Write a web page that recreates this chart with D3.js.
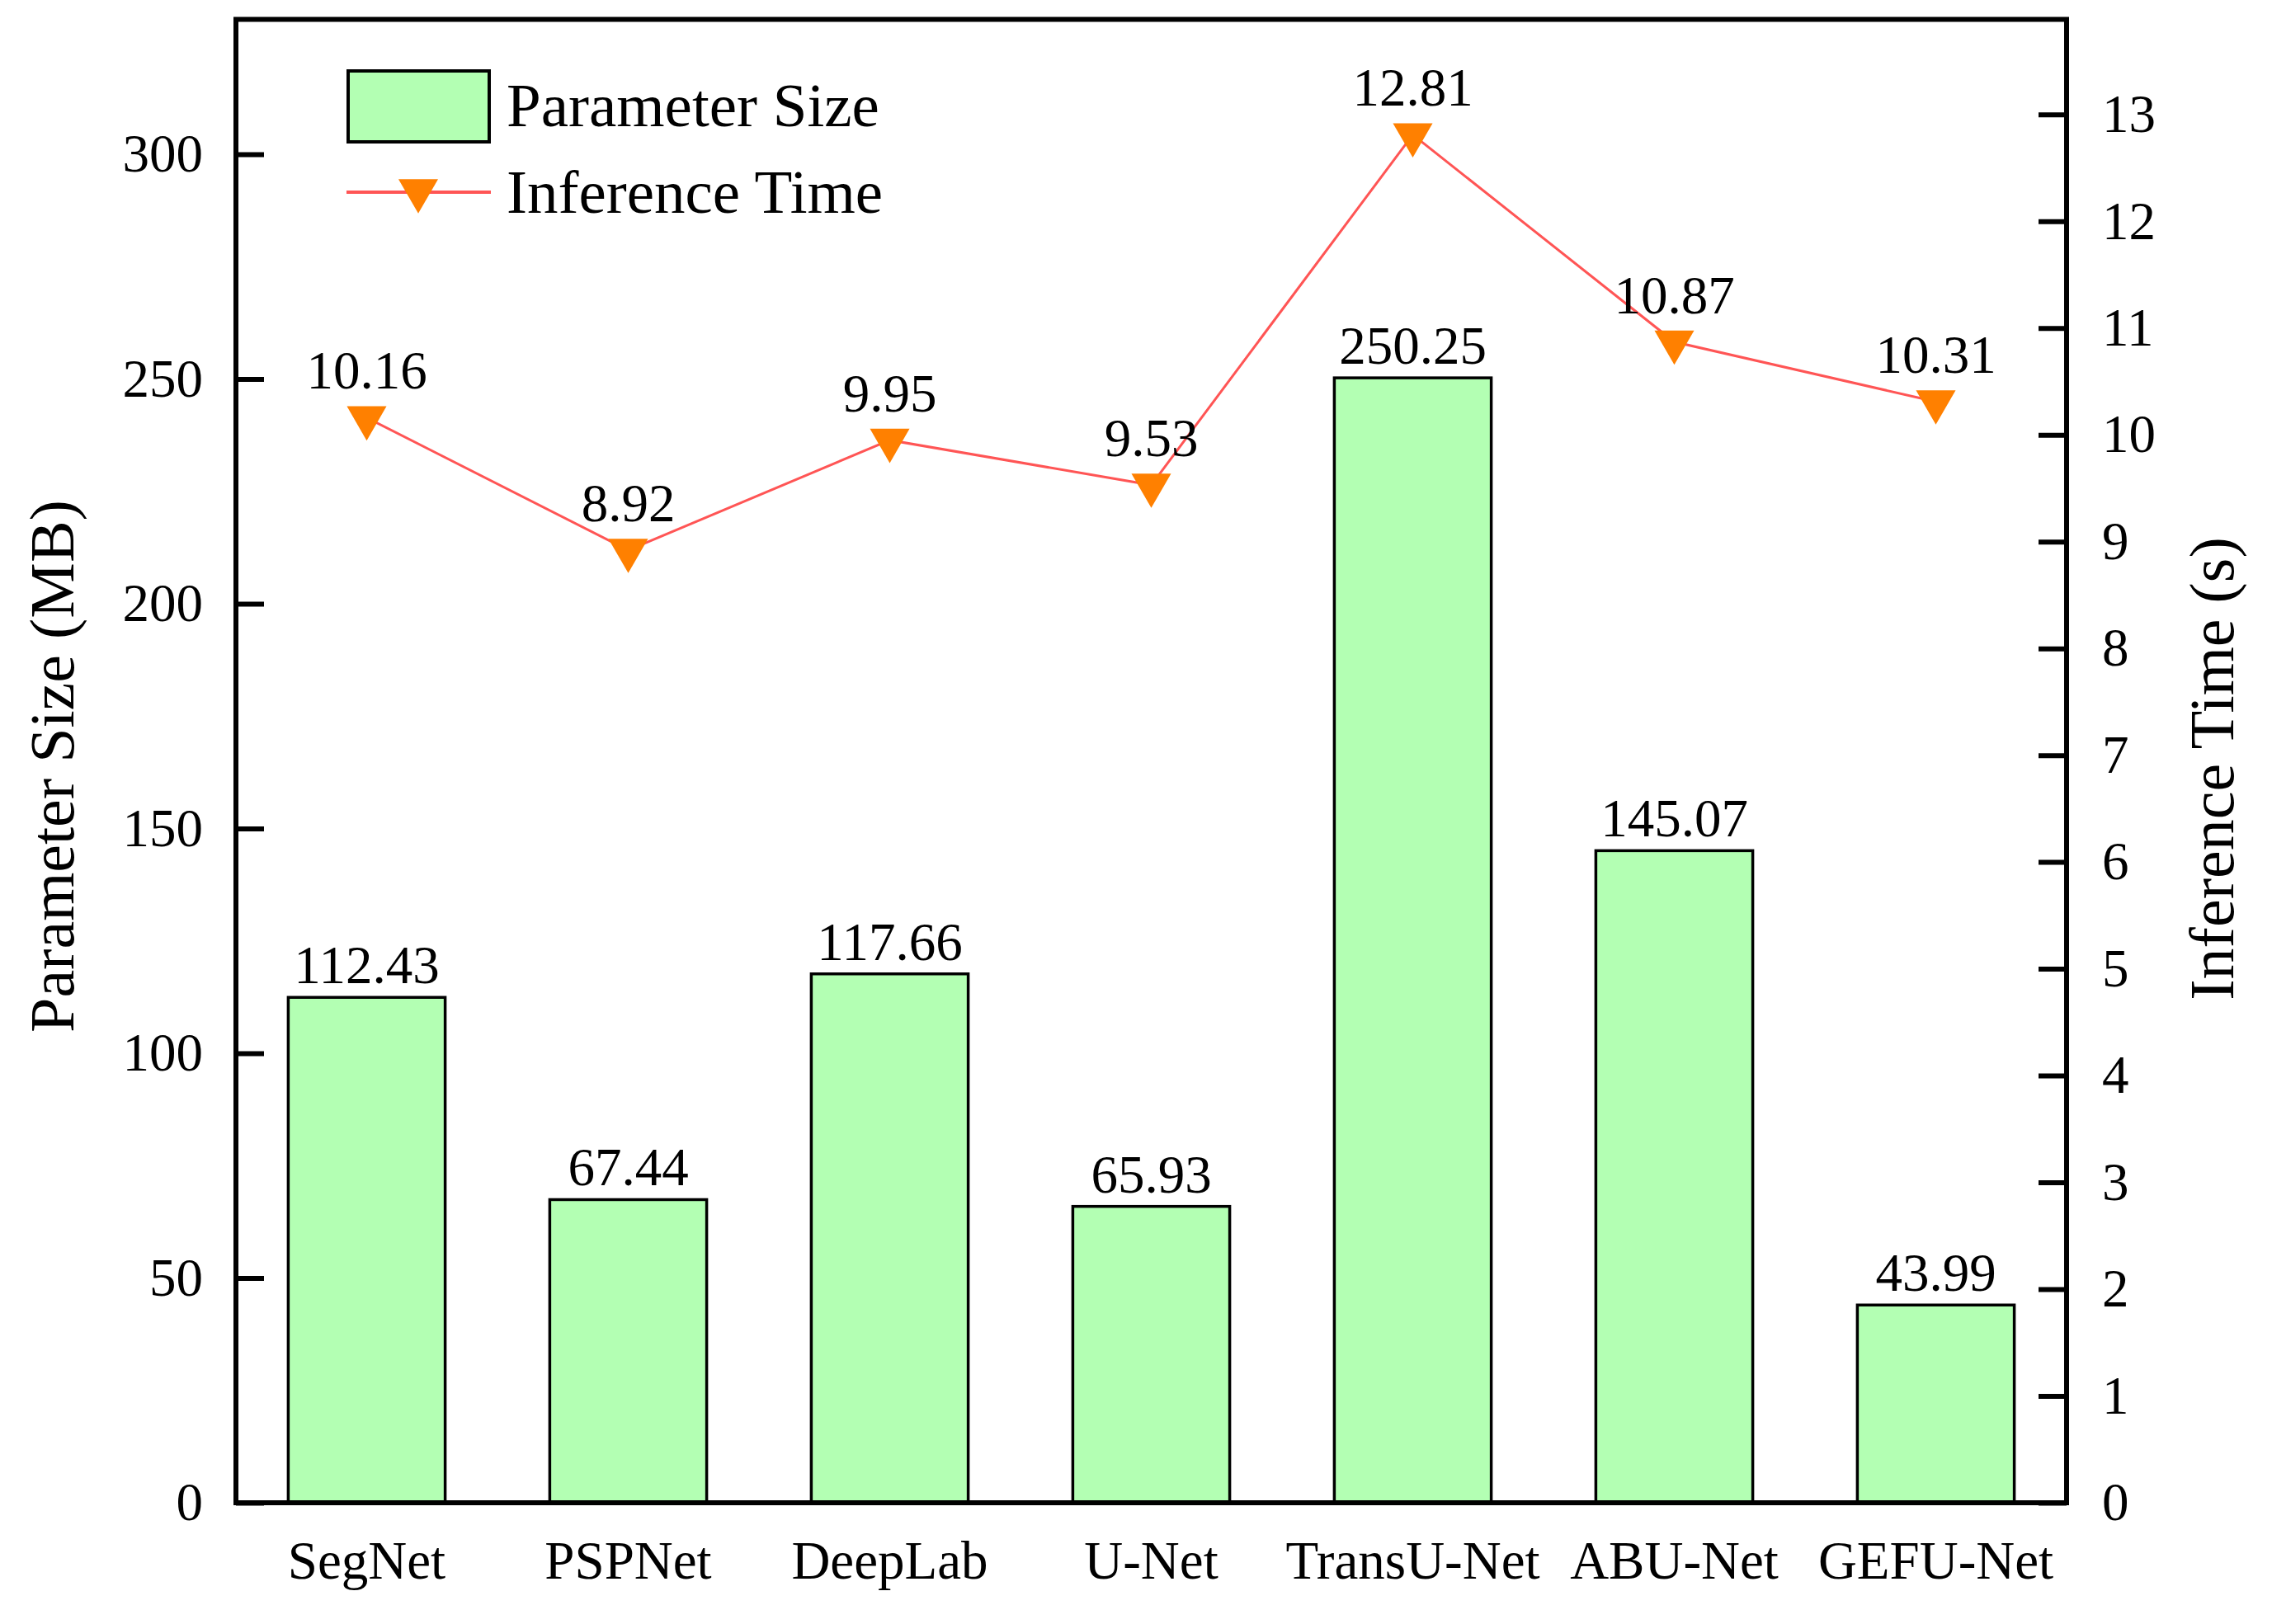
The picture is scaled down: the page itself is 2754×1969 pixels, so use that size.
<!DOCTYPE html>
<html>
<head>
<meta charset="utf-8">
<script src="https://cdn.jsdelivr.net/npm/d3@7"></script>
<style>
  body { margin: 0; background: #fff; }
  text { font-family: "Liberation Serif", "Times New Roman", serif; fill: #000; }
</style>
</head>
<body>
<svg id="chartSVG"></svg>
<script>
// chart data
let categories = ['SegNet', 'PSPNet', 'DeepLab', 'U-Net', 'TransU-Net', 'ABU-Net', 'GEFU-Net'];
let paramSize = [112.43, 67.44, 117.66, 65.93, 250.25, 145.07, 43.99];
let inferTime = [10.16, 8.92, 9.95, 9.53, 12.81, 10.87, 10.31];
let leftTicks = [0, 50, 100, 150, 200, 250, 300];
let rightTicks = [0, 1, 2, 3, 4, 5, 6, 7, 8, 9, 10, 11, 12, 13];
let legendLabels = ['Parameter Size', 'Inference Time'];

let widthSVG = 2754;
let heightSVG = 1969;
let margins = { top: 23.5, bottom: 147, left: 286, right: 249 };

let plotRight = widthSVG - margins.right;
let plotBottom = heightSVG - margins.bottom;

let barColor = '#b3ffb3';
let lineColor = '#ff5555';
let markerColor = '#ff8000';

let SVG = d3.select('svg#chartSVG')
            .attr('width', widthSVG)
            .attr('height', heightSVG);

let data = categories.map((c, i) => ({ cat: c, size: paramSize[i], time: inferTime[i] }));

let x = d3.scaleBand()
          .domain(categories)
          .range([margins.left, plotRight])
          .paddingInner(0.4)
          .paddingOuter(0.2);

let yL = d3.scaleLinear().domain([0, 330]).range([plotBottom, margins.top]);
let yR = d3.scaleLinear().domain([0, 13.89]).range([plotBottom, margins.top]);

// bars
SVG.append('g')
   .selectAll('rect')
   .data(data)
   .enter()
   .append('rect')
   .attr('x', d => x(d.cat))
   .attr('width', x.bandwidth())
   .attr('y', d => yL(d.size))
   .attr('height', d => plotBottom - yL(d.size))
   .style('fill', barColor)
   .style('stroke', '#000')
   .style('stroke-width', 3.5);

SVG.append('g')
   .selectAll('text')
   .data(data)
   .enter()
   .append('text')
   .attr('x', d => x(d.cat) + x.bandwidth() / 2)
   .attr('y', d => yL(d.size) - 17)
   .style('text-anchor', 'middle')
   .style('font-size', '65px')
   .text(d => d.size.toFixed(2));

// line + markers
let line = d3.line()
             .x(d => x(d.cat) + x.bandwidth() / 2)
             .y(d => yR(d.time));

SVG.append('path')
   .datum(data)
   .attr('d', line)
   .style('fill', 'none')
   .style('stroke', lineColor)
   .style('stroke-width', 3);

let tri = d3.symbol().type(d3.symbolTriangle).size(1000);

SVG.append('g')
   .selectAll('path')
   .data(data)
   .enter()
   .append('path')
   .attr('d', tri)
   .attr('transform', d => `translate(${x(d.cat) + x.bandwidth() / 2}, ${yR(d.time)}) rotate(180)`)
   .style('fill', markerColor);

SVG.append('g')
   .selectAll('text')
   .data(data)
   .enter()
   .append('text')
   .attr('x', d => x(d.cat) + x.bandwidth() / 2)
   .attr('y', d => yR(d.time) - 35)
   .style('text-anchor', 'middle')
   .style('font-size', '65px')
   .text(d => d.time.toFixed(2));

// axes
let axisL = d3.axisLeft(yL).tickValues(leftTicks).tickSizeInner(-34).tickSizeOuter(0).tickPadding(40);
let axisR = d3.axisRight(yR).tickValues(rightTicks).tickSizeInner(-34).tickSizeOuter(0).tickPadding(43);
let axisB = d3.axisBottom(x).tickSize(0).tickPadding(46);

let gL = SVG.append('g').attr('transform', `translate(${margins.left}, 0)`).call(axisL);
let gR = SVG.append('g').attr('transform', `translate(${plotRight}, 0)`).call(axisR);
let gB = SVG.append('g').attr('transform', `translate(0, ${plotBottom})`).call(axisB);

[gL, gR, gB].forEach(g => {
  g.select('.domain').remove();
  g.selectAll('line').style('stroke', '#000').style('stroke-width', 6);
  g.selectAll('text')
   .style('font-family', '"Liberation Serif", serif')
   .style('font-size', '65px')
   .style('fill', '#000');
});

// frame
SVG.append('rect')
   .attr('x', margins.left)
   .attr('y', margins.top)
   .attr('width', plotRight - margins.left)
   .attr('height', plotBottom - margins.top)
   .style('fill', 'none')
   .style('stroke', '#000')
   .style('stroke-width', 6);

// axis titles
SVG.append('text')
   .attr('transform', 'translate(89, 929) rotate(-90)')
   .style('text-anchor', 'middle')
   .style('font-size', '76px')
   .text('Parameter Size (MB)');

SVG.append('text')
   .attr('transform', 'translate(2707, 932) rotate(-90)')
   .style('text-anchor', 'middle')
   .style('font-size', '76px')
   .text('Inference Time (s)');

// legend
let legend = SVG.append('g').attr('class', 'legend');

legend.append('rect')
      .attr('x', 422)
      .attr('y', 86)
      .attr('width', 171)
      .attr('height', 86)
      .style('fill', barColor)
      .style('stroke', '#000')
      .style('stroke-width', 4);

legend.append('line')
      .attr('x1', 420).attr('x2', 595)
      .attr('y1', 233).attr('y2', 233)
      .style('stroke', lineColor)
      .style('stroke-width', 4);

legend.append('path')
      .attr('d', tri)
      .attr('transform', 'translate(507, 231) rotate(180)')
      .style('fill', markerColor);

legend.selectAll('text')
      .data(legendLabels)
      .enter()
      .append('text')
      .attr('x', 614)
      .attr('y', (d, i) => [153, 258][i])
      .style('font-size', '75px')
      .text(d => d);
</script>
</body>
</html>
